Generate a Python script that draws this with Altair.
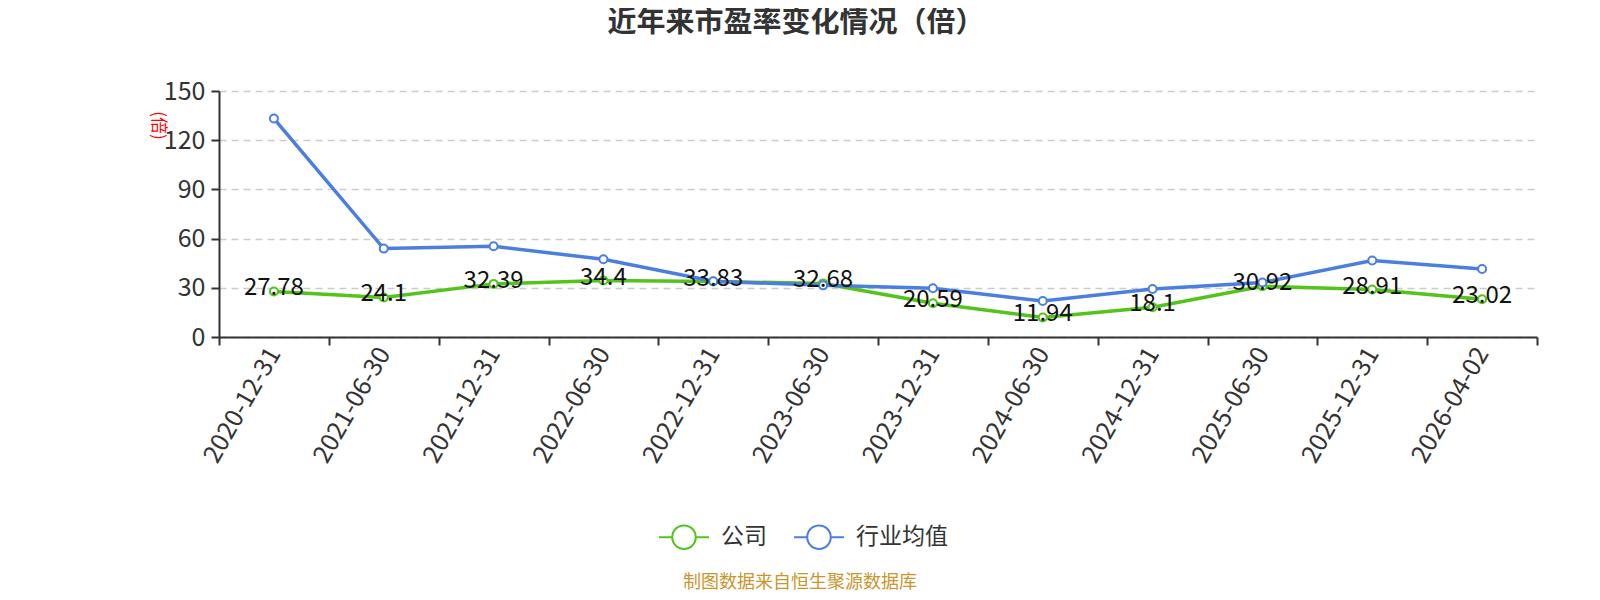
import pandas as pd
import altair as alt

# Data
dates = ["2020-12-31", "2021-06-30", "2021-12-31", "2022-06-30", "2022-12-31", "2023-06-30",
         "2023-12-31", "2024-06-30", "2024-12-31", "2025-06-30", "2025-12-31", "2026-04-02"]
company = [27.78, 24.1, 32.39, 34.4, 33.83, 32.68, 20.59, 11.94, 18.1, 30.92, 28.91, 23.02]
industry = [133.2, 53.9, 55.3, 47.4, 34.0, 31.5, 29.7, 21.9, 29.3, 33.2, 46.6, 41.5]
series_names = ["公司", "行业均值"]
series_colors = ["#52c41a", "#4a7fdf"]

FONT = "Noto Sans CJK SC"

df = pd.concat([
    pd.DataFrame({"date": dates, "value": company, "series": series_names[0]}),
    pd.DataFrame({"date": dates, "value": industry, "series": series_names[1]}),
])
labels_df = df[df["series"] == series_names[0]]

# legend symbol: line with a hollow circle in the middle
legend_path = ("M-1,0L-0.47,0M0.47,0L1,0"
               "M0.47,0A0.47,0.47,0,1,1,-0.47,0A0.47,0.47,0,1,1,0.47,0Z")

x_enc = alt.X("date:N", sort=dates, bandPosition=0.5, title=None,
              scale=alt.Scale(type="band", paddingInner=0, paddingOuter=0),
              axis=alt.Axis(tickBand="extent", tickSize=8, tickWidth=2, tickColor="#333",
                            domainColor="#333", domainWidth=2, labelAngle=-60,
                            labelAlign="right", labelBaseline="middle", labelPadding=4,
                            labelFontSize=25, labelColor="#333", labelFont=FONT))
y_enc = alt.Y("value:Q", scale=alt.Scale(domain=[0, 150]), title="(倍)",
              axis=alt.Axis(values=[0, 30, 60, 90, 120, 150], tickSize=8, tickWidth=2,
                            tickColor="#333", domainColor="#333", domainWidth=2,
                            labelFontSize=25, labelColor="#333", labelFont=FONT, labelPadding=6,
                            grid=True, gridColor="#cccccc", gridDash=[7, 5], gridWidth=1.3,
                            titleColor="red", titleFontSize=17, titleFont=FONT,
                            titleFontWeight="normal", titleAngle=90, titleX=-62, titleY=34,
                            titleAlign="center", titleBaseline="middle"))
color_scale = alt.Scale(domain=series_names, range=series_colors)

lines = alt.Chart(df).mark_line(strokeWidth=3.5).encode(
    x=x_enc, y=y_enc,
    color=alt.Color("series:N", scale=color_scale, sort=series_names,
                    legend=alt.Legend(title=None, orient="none", legendX=439, legendY=420,
                                      direction="horizontal", symbolType=legend_path,
                                      symbolSize=2500, symbolStrokeWidth=2,
                                      symbolFillColor="white", labelFontSize=23,
                                      labelColor="#333", labelFont=FONT, labelOffset=11,
                                      columnPadding=23)),
)

points = alt.Chart(df).mark_point(filled=True, fill="white", size=64, strokeWidth=2,
                                   opacity=1).encode(
    x=x_enc, y=y_enc,
    stroke=alt.Color("series:N", scale=color_scale, legend=None),
)

labels = alt.Chart(labels_df).mark_text(fontSize=24, font=FONT, color="#111", dy=-3,
                                        baseline="middle").encode(
    x=x_enc, y=y_enc, text=alt.Text("value:Q"),
)

title = alt.Chart(pd.DataFrame({"t": ["近年来市盈率变化情况（倍）"]})).mark_text(
    fontSize=29, fontWeight="bold", font=FONT, color="#333", baseline="middle"
).encode(x=alt.value(577), y=alt.value(-68), text="t:N")

footer = alt.Chart(pd.DataFrame({"t": ["制图数据来自恒生聚源数据库"]})).mark_text(
    fontSize=18, font=FONT, color="#c9962b", baseline="middle"
).encode(x=alt.value(581), y=alt.value(492), text="t:N")

chart = alt.layer(lines, points, labels, title, footer).properties(
    width=1318, height=246,
    autosize=alt.AutoSizeParams(type="none"),
    padding={"left": 211, "top": 83, "right": 55, "bottom": 255},
).configure_view(stroke=None)

chart.save("out.html", embed_options={"renderer": "svg", "actions": False})
